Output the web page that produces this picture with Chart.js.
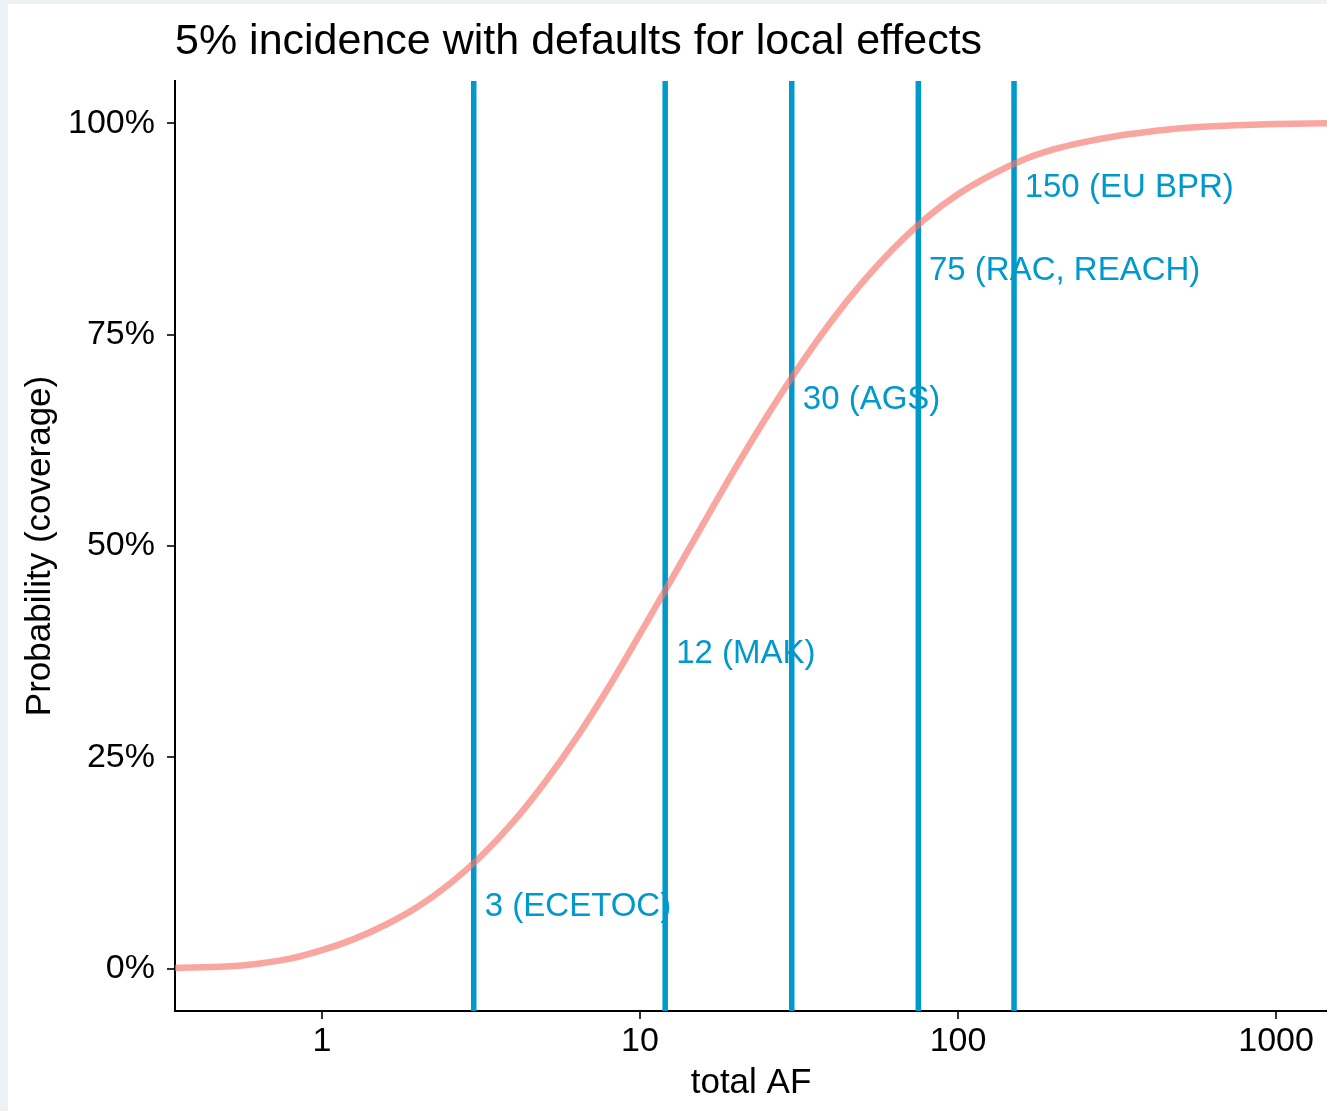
<!DOCTYPE html>
<html><head><meta charset="utf-8">
<script src="https://cdn.jsdelivr.net/npm/chart.js@4"></script>
<style>html,body{margin:0;padding:0;background:#fff;overflow:hidden}#wrap{width:1327px;height:1111px;position:relative}canvas{display:block}</style>
</head><body><div id="wrap"><canvas id="c" width="1327" height="1111"></canvas></div>
<script>
// ---- data ----
const afX = [0.345, 0.501, 0.631, 0.794, 1, 1.259, 1.585, 1.995, 2.512, 3.162, 3.981, 5.012, 6.31, 7.943, 10, 12.59, 15.85, 19.95, 25.12, 31.62, 39.81, 50.12, 63.1, 79.43, 100, 125.9, 158.5, 199.5, 251.2, 316.2, 398.1, 501.2, 631, 794.3, 1000, 1446];
const coverage = [0.001, 0.0025, 0.006, 0.012, 0.022, 0.035, 0.052, 0.073, 0.100, 0.133, 0.173, 0.220, 0.273, 0.332, 0.396, 0.461, 0.527, 0.592, 0.654, 0.712, 0.765, 0.812, 0.853, 0.888, 0.916, 0.938, 0.956, 0.969, 0.978, 0.985, 0.990, 0.994, 0.9965, 0.998, 0.999, 1.0];
const defaultAF = [3, 12, 30, 75, 150];
const defaultNames = ['3 (ECETOC)', '12 (MAK)', '30 (AGS)', '75 (RAC, REACH)', '150 (EU BPR)'];
const labelAF = [3.25, 13, 32.5, 81, 162];
const labelCoverage = [0.073, 0.372, 0.673, 0.825, 0.924];
const xTicks = [1, 10, 100, 1000];
const yTicks = [0, 0.25, 0.5, 0.75, 1];
const yTickLabels = ['0%', '25%', '50%', '75%', '100%'];
const titleText = '5% incidence with defaults for local effects';
const xTitle = 'total AF';
const yTitle = 'Probability (coverage)';

const FONT = '"Liberation Sans", Arial, Helvetica, sans-serif';
const BLUE = '#0099CC';

const decor = {
  id: 'decor',
  beforeDraw(chart) {
    const ctx = chart.ctx;
    ctx.save();
    ctx.fillStyle = '#edf2f6';
    ctx.fillRect(0, 0, chart.width, chart.height);
    ctx.fillStyle = '#ffffff';
    ctx.fillRect(8, 4, chart.width - 8, chart.height - 4);
    ctx.restore();
  },
  beforeDatasetsDraw(chart) {
    const ctx = chart.ctx, xs = chart.scales.x, ys = chart.scales.y, a = chart.chartArea;
    ctx.save();
    ctx.fillStyle = BLUE;
    ctx.font = '33px ' + FONT;
    ctx.textAlign = 'left';
    ctx.textBaseline = 'middle';
    defaultNames.forEach((t, i) => {
      ctx.fillText(t, xs.getPixelForValue(labelAF[i]), ys.getPixelForValue(labelCoverage[i]));
    });
    ctx.strokeStyle = BLUE;
    ctx.lineWidth = 5.5;
    defaultAF.forEach(v => {
      const px = xs.getPixelForValue(v);
      ctx.beginPath();
      ctx.moveTo(px, a.top);
      ctx.lineTo(px, a.bottom);
      ctx.stroke();
    });
    ctx.restore();
  },
  afterDraw(chart) {
    const ctx = chart.ctx, a = chart.chartArea;
    ctx.save();
    ctx.fillStyle = '#000';
    ctx.font = '43px ' + FONT;
    ctx.textAlign = 'left';
    ctx.textBaseline = 'alphabetic';
    ctx.fillText(titleText, 175, 54);
    ctx.font = '35px ' + FONT;
    ctx.textAlign = 'center';
    ctx.fillText(xTitle, (a.left + a.right) / 2, 1093);
    ctx.translate(50, (a.top + a.bottom) / 2);
    ctx.rotate(-Math.PI / 2);
    ctx.fillText(yTitle, 0, 0);
    ctx.restore();
  }
};

new Chart(document.getElementById('c'), {
  type: 'scatter',
  data: {
    datasets: [{
      data: afX.map((x, i) => ({ x: x, y: coverage[i] })),
      showLine: true,
      borderColor: 'rgba(248,118,109,0.65)',
      borderWidth: 6.5,
      pointRadius: 0,
      cubicInterpolationMode: 'monotone',
      fill: false
    }]
  },
  plugins: [decor],
  options: {
    responsive: false,
    animation: false,
    devicePixelRatio: 1,
    layout: { padding: { top: 81, left: 0, right: 0, bottom: 0 } },
    plugins: { legend: { display: false }, tooltip: { enabled: false }, title: { display: false } },
    scales: {
      x: {
        type: 'logarithmic',
        bounds: 'data',
        min: 0.345,
        max: 1446,
        afterBuildTicks(s) { s.ticks = xTicks.map(v => ({ value: v, major: false })); },
        afterFit(s) { s.height = 100; },
        ticks: {
          autoSkip: false, maxRotation: 0, minRotation: 0,
          color: '#000', padding: 2,
          font: { family: FONT, size: 34 },
          callback: v => String(v)
        },
        grid: { drawOnChartArea: false, drawTicks: true, tickLength: 8, color: '#333', lineWidth: 2 },
        border: { display: true, color: '#000', width: 2 }
      },
      y: {
        type: 'linear',
        min: -0.05,
        max: 1.05,
        afterBuildTicks(s) { s.ticks = yTicks.map(v => ({ value: v })); },
        afterFit(s) { s.width = 175; },
        ticks: {
          autoSkip: false, color: '#000', padding: 12,
          font: { family: FONT, size: 34 },
          callback: (v) => { const i = yTicks.indexOf(v); return i >= 0 ? yTickLabels[i] : ''; }
        },
        grid: { drawOnChartArea: false, drawTicks: true, tickLength: 8, color: '#333', lineWidth: 2 },
        border: { display: true, color: '#000', width: 2 }
      }
    }
  }
});
</script>
</body></html>
